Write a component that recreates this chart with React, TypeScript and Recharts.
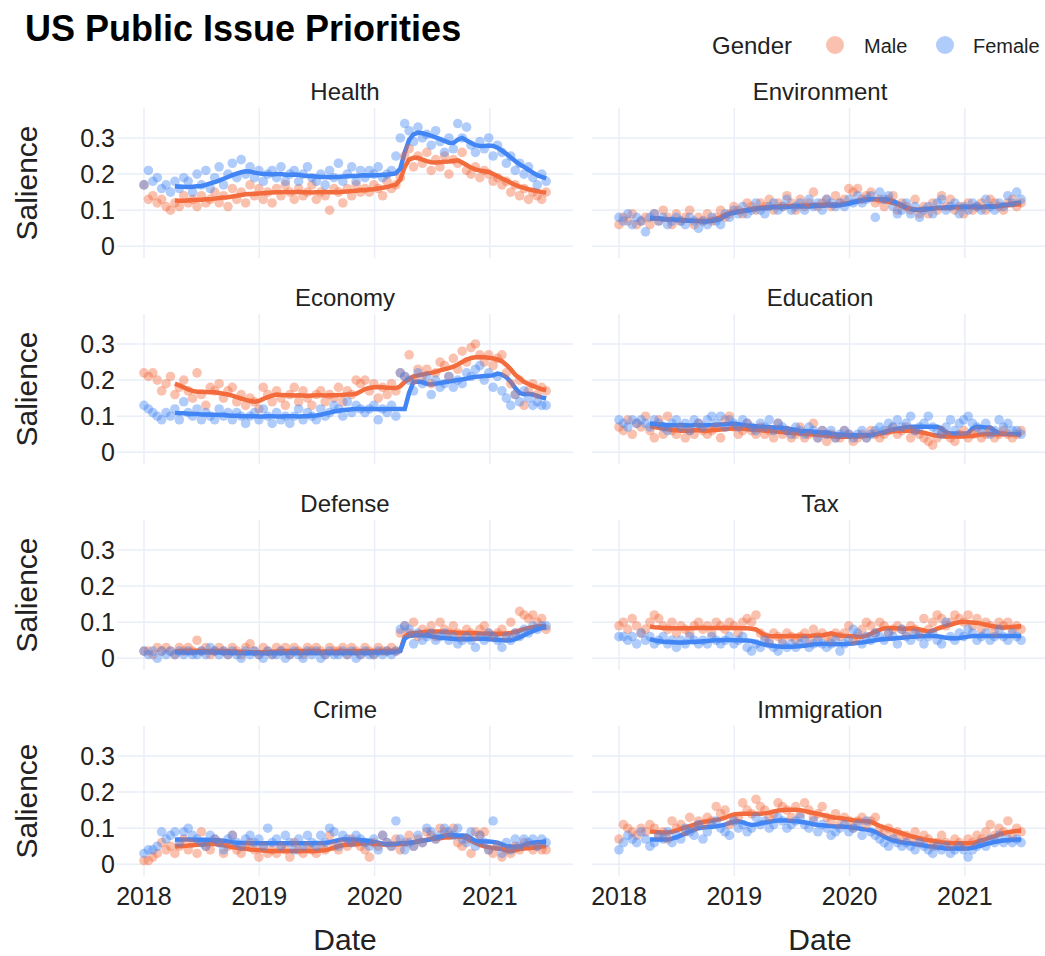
import { ComposedChart, Scatter, Line, XAxis, YAxis, CartesianGrid } from 'recharts';

// Biweekly survey samples from Jan 2018 to mid 2021, salience in percent.
// Trend series start at sample TREND_START (rolling window needs ~3 months).
const SAMPLE_STEP = 14 / 365.25;
const TREND_START = 7;

const HEALTH_MALE = [
  17, 13, 14, 12, 13, 11, 10, 12, 11, 14,
  12, 13, 11, 14, 12, 13, 15, 12, 14, 11,
  16, 13, 15, 12, 17, 14, 16, 13, 15, 12,
  16, 14, 17, 15, 13, 16, 14, 15, 17, 13,
  15, 14, 10, 16, 15, 12, 16, 14, 17, 15,
  16, 15, 17, 16, 14, 18, 16, 17, 19, 25,
  27, 22, 25, 23, 26, 21, 24, 22, 25, 20,
  24, 23, 26, 21, 20, 22, 19, 21, 20, 18,
  19, 17, 18, 15, 17, 14, 16, 13, 15, 14,
  13, 15,
];
const HEALTH_FEMALE = [
  17, 21, 18, 19, 16, 17, 15, 18, 16, 19,
  18, 15, 20, 17, 21, 16, 19, 22, 17, 20,
  23, 19, 24, 20, 22, 19, 21, 18, 20, 21,
  19, 22, 18, 20, 21, 18, 20, 22, 19, 18,
  20, 17, 21, 19, 23, 18, 20, 22, 18, 21,
  19, 21, 20, 22, 19, 20, 21, 25, 30, 34,
  32, 29, 33, 30, 31, 28, 32, 29, 26, 30,
  27, 34, 30, 33, 28, 26, 29, 27, 30, 25,
  28, 26, 23, 25, 21, 23, 20, 22, 19, 17,
  20, 18,
];
const HEALTH_MALE_TREND = [
  12.7, 12.6, 12.6, 12.7, 12.8, 12.8, 12.9, 13.0, 13.0, 13.2,
  13.4, 13.5, 13.6, 13.8, 14.0, 14.2, 14.4, 14.5, 14.5, 14.6,
  14.7, 14.8, 14.9, 15.0, 15.0, 15.1, 15.0, 15.0, 15.1, 15.0,
  15.0, 14.9, 15.0, 15.0, 15.1, 15.0, 15.0, 15.0, 15.1, 15.2,
  15.3, 15.4, 15.5, 15.6, 15.7, 15.8, 16.0, 16.2, 16.4, 16.8,
  17.0, 18.5, 22.0, 24.0, 24.5, 24.5, 24.0, 23.6, 23.3, 23.2,
  23.3, 23.4, 23.5, 23.7, 23.8, 23.2, 22.5, 21.8, 21.3, 21.0,
  20.8, 20.6, 20.0, 19.4, 18.8, 18.2, 17.6, 17.0, 16.5, 16.2,
  15.8, 15.5, 15.3, 15.0, 14.9,
];
const HEALTH_FEMALE_TREND = [
  16.6, 16.5, 16.5, 16.4, 16.5, 16.6, 16.7, 17.0, 17.4, 17.8,
  18.2, 18.7, 19.2, 19.7, 20.1, 20.5, 20.8, 20.7, 20.4, 20.2,
  20.0, 20.0, 19.9, 20.0, 20.0, 19.8, 19.8, 19.9, 19.8, 19.6,
  19.5, 19.4, 19.3, 19.2, 19.2, 19.1, 19.2, 19.2, 19.3, 19.4,
  19.5, 19.5, 19.6, 19.7, 19.6, 19.7, 19.7, 19.8, 19.8, 20.0,
  20.2, 21.5, 26.0, 29.5, 31.0, 31.5, 31.3, 31.0, 30.6, 30.2,
  29.7, 29.2, 28.7, 28.6, 29.5, 30.0, 29.3, 28.6, 28.0, 27.8,
  27.8, 27.9, 27.8, 27.3, 26.5, 25.6, 24.6, 23.6, 22.7, 22.0,
  21.2, 20.4, 19.7, 19.2, 18.8,
];

const ENV_MALE = [
  6, 8, 7, 9, 6, 7, 8, 6, 9, 7,
  10, 8, 6, 9, 7, 8, 10, 6, 8, 7,
  9, 7, 8, 10, 8, 9, 11, 10, 9, 12,
  11, 10, 12, 11, 13, 10, 12, 11, 14, 12,
  10, 13, 11, 12, 15, 11, 12, 13, 11, 14,
  12, 13, 16, 15, 16, 13, 14, 15, 12, 13,
  11, 13, 14, 10, 12, 11, 10, 13, 9, 11,
  9, 12, 10, 14, 11, 13, 10, 11, 9, 12,
  10, 11, 12, 10, 13, 12, 11, 10, 12, 13,
  11, 12,
];
const ENV_FEMALE = [
  8, 7, 9, 6, 8, 7, 4, 8, 9, 7,
  8, 6, 7, 8, 7, 6, 8, 7, 5, 7,
  6, 8, 7, 6, 9, 8, 10, 9, 11, 9,
  10, 12, 10, 9, 11, 12, 10, 11, 13, 10,
  11, 12, 10, 13, 11, 12, 10, 13, 12, 11,
  12, 11, 13, 12, 14, 12, 13, 14, 8, 15,
  13, 14, 11, 9, 10, 12, 9, 11, 8, 10,
  11, 9, 12, 13, 10, 11, 12, 9, 11, 10,
  12, 11, 10, 13, 11, 10, 12, 11, 14, 12,
  15, 13,
];
const ENV_MALE_TREND = [
  7.7, 7.6, 7.6, 7.5, 7.4, 7.4, 7.3, 7.2, 7.1, 7.1,
  7.1, 7.0, 7.0, 7.1, 7.3, 7.6, 8.1, 8.7, 9.2, 9.5,
  9.7, 9.9, 10.1, 10.3, 10.5, 10.7, 10.8, 10.9, 11.0, 11.0,
  11.1, 11.1, 11.2, 11.2, 11.2, 11.3, 11.3, 11.4, 11.4, 11.5,
  11.6, 11.6, 11.5, 11.6, 11.8, 12.0, 12.3, 12.6, 12.8, 13.0,
  13.1, 13.0, 12.8, 12.6, 12.3, 12.0, 11.6, 11.1, 10.6, 10.3,
  10.2, 10.2, 10.3, 10.4, 10.5, 10.6, 10.6, 10.7, 10.7, 10.8,
  10.8, 10.9, 10.9, 10.8, 10.8, 10.8, 10.9, 11.0, 11.0, 11.1,
  11.2, 11.4, 11.5, 11.6, 11.7,
];
const ENV_FEMALE_TREND = [
  7.9, 7.8, 7.7, 7.6, 7.5, 7.4, 7.3, 7.3, 7.2, 7.1,
  7.0, 7.0, 6.9, 6.9, 7.0, 7.2, 7.6, 8.4, 9.0, 9.3,
  9.5, 9.7, 9.9, 10.1, 10.3, 10.5, 10.6, 10.7, 10.8, 10.8,
  10.9, 10.9, 11.0, 11.0, 11.0, 11.1, 11.0, 11.1, 11.2, 11.2,
  11.3, 11.3, 11.2, 11.4, 11.6, 11.8, 12.1, 12.4, 12.7, 12.9,
  13.0, 13.1, 13.0, 13.0, 12.9, 12.6, 12.0, 11.4, 10.8, 10.3,
  10.1, 10.0, 10.1, 10.3, 10.5, 10.6, 10.7, 10.8, 10.8, 10.9,
  10.9, 11.0, 10.9, 11.0, 11.0, 10.9, 11.0, 11.1, 11.0, 11.2,
  11.4, 11.6, 11.8, 12.0, 12.1,
];

const ECON_MALE = [
  22, 21, 22, 20, 17, 19, 21, 16, 18, 20,
  17, 15, 22, 16, 13, 18, 17, 19, 15, 17,
  18, 14, 16, 13, 15, 14, 12, 18, 16, 14,
  17, 15, 13, 16, 18, 14, 17, 15, 13, 16,
  17, 14, 16, 15, 18, 14, 17, 16, 20, 19,
  20, 17, 19, 15, 18, 16, 19, 17, 22, 21,
  27, 20, 23, 21, 23, 19, 22, 25, 24, 21,
  26, 23, 28, 25, 29, 30, 27, 25, 27, 24,
  26, 27, 22, 19, 16, 20, 13, 17, 19, 16,
  18, 17,
];
const ECON_FEMALE = [
  13, 12, 11, 10, 9, 11, 10, 12, 9, 14,
  11, 10, 12, 9, 11, 10, 9, 12, 10, 11,
  9, 11, 10, 8, 10, 11, 9, 12, 10, 8,
  11, 9, 10, 8, 10, 12, 9, 11, 10, 9,
  12, 10, 11, 13, 12, 10, 14, 11, 13, 12,
  11, 12, 13, 9, 12, 11, 13, 10, 22, 21,
  20, 17, 22, 19, 21, 16, 20, 18, 19, 21,
  18, 20, 19, 22, 21, 23, 24, 20, 22, 18,
  21, 17, 15, 13, 16, 14, 17, 15, 13, 14,
  13, 13,
];
const ECON_MALE_TREND = [
  19.0, 18.5, 18.0, 17.4, 17.0, 16.8, 16.8, 16.7, 16.6, 16.6,
  16.4, 16.2, 16.0, 15.7, 15.3, 14.9, 14.5, 14.2, 14.0, 14.2,
  14.8, 15.3, 15.7, 16.0, 15.9, 15.8, 15.8, 15.7, 15.8, 15.7,
  15.6, 15.7, 15.8, 15.8, 15.7, 15.8, 15.8, 15.9, 15.9, 16.0,
  16.0, 16.2, 16.8, 17.5, 17.8, 18.0, 18.1, 18.0, 17.9, 17.8,
  17.8, 18.3, 19.5, 20.3, 21.0, 21.3, 21.5, 21.8, 22.0, 22.3,
  22.7, 23.0, 23.3, 23.7, 24.3, 25.0, 25.7, 26.1, 26.3, 26.4,
  26.3, 26.2, 26.0, 25.7, 25.2, 24.2, 23.0, 21.5, 20.5, 19.5,
  18.9, 18.4, 17.9, 17.5, 17.2,
];
const ECON_FEMALE_TREND = [
  10.9, 10.8, 10.8, 10.7, 10.6, 10.6, 10.5, 10.5, 10.4, 10.4,
  10.3, 10.3, 10.2, 10.1, 10.1, 10.0, 10.0, 10.0, 10.0, 9.9,
  9.9, 10.0, 10.0, 9.9, 9.9, 10.0, 10.0, 10.0, 9.9, 10.0,
  10.0, 10.1, 10.2, 10.4, 10.7, 11.0, 11.3, 11.5, 11.7, 11.8,
  11.9, 12.0, 12.0, 12.0, 12.0, 12.0, 11.9, 12.0, 12.0, 12.0,
  12.0, 12.0, 12.0, 16.5, 19.5, 19.6, 19.4, 19.0, 18.8, 19.0,
  19.2, 19.4, 19.6, 19.8, 20.0, 20.2, 20.4, 20.7, 20.9, 21.0,
  21.1, 21.2, 21.3, 21.8, 21.5, 20.8, 19.5, 17.8, 16.4, 16.1,
  16.2, 16.0, 15.6, 15.2, 14.9,
];

const EDU_MALE = [
  7, 6, 9, 5, 8, 7, 10, 6, 4, 9,
  5, 10, 6, 5, 7, 4, 6, 5, 8, 6,
  5, 6, 7, 4, 9, 10, 7, 5, 6, 8,
  6, 5, 7, 5, 6, 4, 8, 5, 6, 4,
  5, 7, 4, 5, 8, 4, 6, 3, 5, 4,
  4, 6, 5, 3, 4, 5, 4, 6, 5, 4,
  5, 6, 7, 5, 6, 7, 4, 6, 5, 4,
  3, 2, 4, 6, 5, 4, 3, 5, 6, 4,
  5, 6, 4, 5, 6, 4, 5, 6, 5, 4,
  5, 6,
];
const EDU_FEMALE = [
  9, 8, 7, 9, 8, 9, 8, 7, 9, 8,
  7, 6, 8, 9, 7, 8, 6, 9, 8, 7,
  9, 10, 8, 10, 7, 9, 8, 7, 9, 8,
  7, 6, 8, 7, 9, 6, 8, 7, 6, 5,
  7, 6, 5, 7, 6, 4, 6, 5, 6, 4,
  5, 6, 5, 4, 5, 6, 4, 5, 6, 7,
  6, 8, 7, 9, 7, 8, 10, 6, 7, 8,
  10, 7, 6, 5, 7, 9, 6, 8, 9, 10,
  8, 7, 6, 8, 5, 6, 9, 7, 8, 6,
  6, 5,
];
const EDU_MALE_TREND = [
  7.2, 7.0, 6.8, 6.6, 6.4, 6.2, 6.1, 6.0, 6.0, 6.0,
  6.1, 6.1, 6.0, 6.0, 6.1, 6.2, 6.3, 6.4, 6.5, 6.6,
  6.6, 6.5, 6.4, 6.3, 6.2, 6.1, 6.0, 5.9, 5.8, 5.7,
  5.6, 5.5, 5.4, 5.3, 5.2, 5.1, 5.0, 4.9, 4.8, 4.7,
  4.6, 4.5, 4.4, 4.3, 4.3, 4.3, 4.4, 4.4, 4.5, 4.6,
  4.8, 5.0, 5.2, 5.4, 5.6, 5.8, 5.9, 6.0, 6.0, 5.9,
  5.8, 5.6, 5.4, 5.1, 4.8, 4.6, 4.5, 4.4, 4.4, 4.4,
  4.4, 4.4, 4.5, 4.6, 4.7, 4.9, 5.0, 5.0, 5.0, 5.0,
  5.0, 5.0, 5.0, 5.0, 5.0,
];
const EDU_FEMALE_TREND = [
  8.0, 7.9, 7.8, 7.7, 7.5, 7.5, 7.4, 7.5, 7.5, 7.4,
  7.5, 7.5, 7.4, 7.5, 7.5, 7.6, 7.7, 7.8, 7.9, 8.0,
  7.8, 7.6, 7.4, 7.3, 7.2, 7.1, 7.1, 7.0, 6.9, 6.9,
  6.8, 6.6, 6.4, 6.2, 6.0, 5.9, 5.8, 5.7, 5.6, 5.5,
  5.4, 5.2, 5.0, 4.9, 4.8, 4.8, 4.8, 4.7, 4.8, 4.8,
  4.8, 4.9, 5.2, 5.6, 6.0, 6.3, 6.5, 6.7, 6.9, 7.1,
  7.1, 7.1, 7.1, 7.1, 7.1, 7.1, 6.6, 5.5, 5.2, 5.2,
  5.2, 5.2, 5.3, 6.6, 7.1, 7.0, 6.9, 6.9, 6.0, 5.3,
  5.2, 5.1, 5.0, 5.0, 5.0,
];

const DEF_MALE = [
  2, 2, 1, 3, 2, 3, 2, 1, 3, 2,
  3, 2, 5, 2, 3, 1, 2, 3, 2, 1,
  3, 2, 1, 3, 4, 2, 1, 3, 2, 1,
  3, 2, 3, 1, 3, 2, 1, 3, 2, 3,
  2, 1, 3, 2, 2, 3, 1, 3, 2, 1,
  3, 2, 1, 3, 2, 2, 3, 2, 7, 9,
  7, 10, 6, 8, 7, 9, 6, 10, 8, 7,
  9, 7, 6, 8, 7, 6, 8, 9, 7, 6,
  7, 8, 6, 10, 7, 13, 12, 11, 12, 10,
  11, 8,
];
const DEF_FEMALE = [
  2, 1, 2, 0, 2, 1, 2, 1, 2, 1,
  2, 1, 1, 2, 1, 3, 2, 1, 2, 1,
  2, 1, 0, 2, 1, 2, 1, 0, 2, 1,
  1, 2, 0, 1, 2, 1, 0, 2, 1, 2,
  0, 1, 2, 1, 1, 2, 1, 2, 0, 1,
  2, 1, 1, 2, 1, 2, 1, 2, 8, 9,
  8, 4, 7, 5, 6, 7, 5, 6, 7, 5,
  6, 4, 5, 6, 5, 3, 6, 5, 7, 6,
  5, 3, 6, 5, 7, 6, 8, 7, 9, 8,
  9, 9,
];
const DEF_MALE_TREND = [
  1.9, 2.0, 2.0, 2.1, 2.1, 2.1, 2.0, 2.0, 2.0, 2.0,
  2.0, 2.0, 2.0, 1.9, 1.9, 1.8, 1.8, 1.7, 1.7, 1.7,
  1.7, 1.8, 1.8, 1.9, 1.9, 2.0, 2.0, 2.0, 2.0, 2.0,
  2.0, 2.0, 2.0, 1.9, 1.9, 1.9, 1.9, 2.0, 2.0, 2.0,
  2.0, 2.0, 2.0, 2.0, 2.0, 2.0, 2.0, 2.0, 2.0, 2.1,
  2.1, 2.2, 6.0, 6.8, 7.0, 7.1, 7.2, 7.3, 7.4, 7.4,
  7.4, 7.3, 7.2, 7.2, 7.1, 7.1, 7.0, 7.0, 7.0, 6.9,
  6.9, 6.9, 6.8, 6.8, 6.8, 6.9, 7.0, 7.3, 7.7, 8.1,
  8.4, 8.6, 8.8, 8.9, 9.0,
];
const DEF_FEMALE_TREND = [
  1.7, 1.7, 1.6, 1.6, 1.6, 1.7, 1.7, 1.7, 1.6, 1.6,
  1.6, 1.6, 1.5, 1.5, 1.5, 1.5, 1.4, 1.4, 1.4, 1.4,
  1.4, 1.4, 1.4, 1.4, 1.5, 1.5, 1.5, 1.5, 1.5, 1.5,
  1.5, 1.5, 1.5, 1.5, 1.5, 1.5, 1.5, 1.5, 1.5, 1.5,
  1.5, 1.5, 1.5, 1.5, 1.5, 1.6, 1.6, 1.6, 1.6, 1.7,
  1.8, 2.0, 5.5, 6.2, 6.3, 6.4, 6.4, 6.3, 6.1, 5.9,
  5.7, 5.6, 5.5, 5.4, 5.3, 5.3, 5.3, 5.3, 5.4, 5.4,
  5.4, 5.3, 5.2, 5.1, 5.0, 4.9, 5.0, 5.3, 5.8, 6.4,
  7.0, 7.5, 8.0, 8.4, 8.6,
];

const TAX_MALE = [
  9, 10, 8, 11, 9, 7, 8, 10, 12, 11,
  9, 8, 10, 7, 9, 8, 7, 9, 10, 8,
  9, 7, 10, 9, 8, 10, 9, 7, 10, 11,
  10, 12, 7, 6, 5, 7, 6, 5, 7, 6,
  5, 6, 7, 5, 8, 6, 7, 6, 5, 7,
  6, 7, 9, 5, 6, 8, 10, 9, 7, 10,
  9, 7, 8, 9, 8, 7, 9, 8, 7, 11,
  8, 10, 12, 11, 9, 10, 12, 11, 10, 12,
  9, 11, 8, 10, 9, 7, 10, 9, 10, 8,
  9, 8,
];
const TAX_FEMALE = [
  6, 6, 5, 6, 4, 7, 5, 6, 4, 5,
  6, 4, 5, 3, 5, 4, 6, 5, 4, 5,
  4, 6, 5, 4, 5, 6, 4, 5, 6, 3,
  2, 4, 3, 5, 4, 3, 2, 4, 3, 4,
  3, 4, 5, 3, 4, 5, 4, 3, 4, 5,
  2, 4, 5, 8, 7, 4, 6, 5, 7, 6,
  5, 7, 6, 4, 8, 6, 5, 7, 6, 4,
  6, 7, 5, 4, 10, 6, 5, 7, 6, 8,
  7, 5, 6, 7, 5, 6, 8, 6, 5, 7,
  6, 5,
];
const TAX_MALE_TREND = [
  8.8, 8.6, 8.5, 8.4, 8.3, 8.3, 8.3, 8.3, 8.3, 8.3,
  8.4, 8.4, 8.4, 8.4, 8.4, 8.4, 8.4, 8.4, 8.4, 8.4,
  8.4, 8.3, 8.3, 8.2, 8.0, 7.2, 6.4, 6.2, 6.1, 6.1,
  6.1, 6.1, 6.2, 6.2, 6.2, 6.2, 6.2, 6.3, 6.3, 6.4,
  6.6, 6.9, 6.6, 6.3, 6.2, 6.2, 6.1, 6.0, 6.0, 6.3,
  6.8, 7.4, 7.9, 8.3, 8.4, 8.3, 8.3, 8.2, 8.2, 8.3,
  8.2, 8.0, 7.7, 7.4, 7.6, 8.2, 8.6, 9.0, 9.3, 9.7,
  10.0, 10.1, 10.0, 9.9, 9.8, 9.6, 9.3, 9.0, 8.8, 8.6,
  8.5, 8.6, 8.7, 8.8, 8.9,
];
const TAX_FEMALE_TREND = [
  5.3, 5.0, 4.8, 4.6, 4.5, 4.5, 4.4, 4.4, 4.4, 4.5,
  4.6, 4.6, 4.7, 4.8, 4.9, 5.0, 5.0, 5.1, 5.1, 5.0,
  5.0, 4.9, 4.9, 4.8, 4.5, 4.1, 3.8, 3.6, 3.4, 3.3,
  3.2, 3.2, 3.2, 3.3, 3.4, 3.5, 3.7, 3.9, 3.9, 4.0,
  4.0, 3.9, 3.9, 3.9, 3.9, 4.0, 4.1, 4.3, 4.4, 4.6,
  4.8, 5.0, 5.2, 5.3, 5.4, 5.5, 5.6, 5.7, 5.8, 6.0,
  6.0, 6.1, 6.1, 6.2, 6.2, 6.1, 5.9, 5.7, 5.6, 5.5,
  5.6, 5.8, 6.0, 6.2, 6.2, 6.2, 6.2, 6.2, 6.2, 6.2,
  6.2, 6.2, 6.2, 6.2, 6.2,
];

const CRIME_MALE = [
  1, 1, 2, 3, 6, 4, 5, 3, 5, 7,
  4, 6, 3, 9, 5, 4, 7, 6, 3, 5,
  8, 4, 3, 5, 6, 4, 2, 5, 3, 4,
  3, 5, 4, 2, 6, 4, 3, 5, 4, 3,
  5, 4, 8, 5, 4, 6, 5, 7, 6, 5,
  4, 2, 6, 5, 8, 6, 5, 7, 4, 6,
  8, 5, 7, 6, 9, 8, 7, 10, 9, 8,
  10, 6, 5, 7, 3, 9, 8, 9, 4, 3,
  5, 2, 4, 3, 5, 4, 6, 5, 4, 5,
  4, 4,
];
const CRIME_FEMALE = [
  3, 4, 4, 5, 9, 7, 8, 9, 6, 9,
  10, 8, 7, 6, 5, 8, 7, 6, 4, 7,
  8, 6, 5, 7, 8, 6, 7, 5, 10, 6,
  7, 5, 8, 6, 4, 7, 5, 8, 6, 5,
  8, 6, 10, 9, 5, 8, 7, 6, 8, 7,
  6, 5, 7, 4, 8, 6, 5, 12, 7, 4,
  6, 5, 8, 6, 10, 9, 7, 8, 10, 9,
  8, 10, 7, 6, 9, 5, 8, 6, 4, 12,
  5, 3, 6, 4, 7, 5, 7, 6, 7, 5,
  7, 6,
];
const CRIME_MALE_TREND = [
  4.9, 5.0, 5.1, 5.2, 5.3, 5.4, 5.5, 5.5, 5.6, 5.6,
  5.5, 5.3, 5.0, 4.8, 4.6, 4.4, 4.3, 4.1, 4.0, 3.9,
  3.8, 3.7, 3.7, 3.7, 3.7, 3.7, 3.7, 3.7, 3.7, 3.7,
  3.7, 3.7, 3.7, 3.8, 3.9, 4.2, 4.6, 5.0, 5.3, 5.4,
  5.5, 5.6, 5.7, 5.8, 5.8, 5.7, 5.6, 5.5, 5.5, 5.5,
  5.5, 5.6, 5.7, 5.9, 6.1, 6.4, 6.6, 6.8, 7.0, 7.1,
  7.2, 7.4, 7.5, 7.6, 7.7, 7.6, 7.3, 6.5, 5.9, 5.4,
  5.0, 4.7, 4.5, 4.4, 4.2, 3.8, 3.7, 3.9, 4.2, 4.4,
  4.5, 4.6, 4.8, 4.9, 5.0,
];
const CRIME_FEMALE_TREND = [
  6.9, 6.9, 6.9, 6.9, 6.8, 6.8, 6.8, 6.8, 6.7, 6.7,
  6.6, 6.5, 6.3, 6.1, 6.0, 5.9, 5.9, 5.8, 5.8, 5.8,
  5.8, 5.8, 5.8, 5.8, 5.8, 5.8, 5.8, 5.8, 5.8, 5.8,
  5.8, 5.8, 5.9, 5.9, 5.9, 6.1, 6.4, 6.7, 6.9, 6.9,
  6.9, 6.8, 6.7, 6.6, 6.5, 6.2, 6.0, 5.7, 5.6, 5.6,
  5.7, 5.8, 5.9, 6.0, 6.1, 6.3, 6.5, 6.7, 7.0, 7.4,
  7.7, 7.9, 8.1, 8.1, 8.0, 8.0, 7.9, 7.2, 6.5, 6.4,
  6.3, 6.3, 6.2, 6.0, 5.5, 5.0, 4.9, 4.9, 5.0, 5.3,
  5.8, 6.0, 6.1, 6.2, 6.3,
];

const IMM_MALE = [
  7, 11, 10, 9, 8, 10, 9, 11, 10, 8,
  9, 7, 12, 10, 11, 9, 13, 10, 12, 11,
  13, 12, 16, 14, 15, 11, 12, 13, 17, 15,
  14, 18, 16, 15, 13, 14, 17, 16, 15, 13,
  16, 14, 17, 15, 13, 14, 16, 13, 12, 14,
  11, 13, 12, 10, 12, 13, 11, 12, 13, 10,
  9, 10, 8, 9, 7, 8, 7, 9, 6, 8,
  7, 5, 6, 8, 6, 5, 7, 6, 5, 7,
  6, 8, 7, 9, 11, 8, 10, 9, 12, 8,
  10, 9,
];
const IMM_FEMALE = [
  4, 6, 8, 7, 6, 9, 7, 5, 6, 8,
  7, 9, 6, 8, 7, 10, 9, 8, 11, 7,
  9, 11, 12, 10, 9, 8, 12, 10, 11, 9,
  10, 13, 11, 12, 10, 11, 13, 12, 10, 11,
  12, 13, 11, 10, 12, 9, 11, 10, 8, 9,
  10, 11, 9, 10, 11, 8, 12, 9, 8, 7,
  6, 5, 7, 6, 5, 6, 5, 4, 6, 5,
  4, 3, 5, 4, 5, 3, 4, 5, 4, 2,
  4, 5, 6, 5, 7, 6, 8, 6, 7, 6,
  7, 6,
];
const IMM_MALE_TREND = [
  9.1, 9.0, 8.9, 8.8, 8.8, 9.0, 9.4, 9.8, 10.2, 10.6,
  11.0, 11.4, 11.7, 11.9, 12.1, 12.3, 12.5, 12.9, 13.4, 13.8,
  13.9, 14.0, 14.0, 14.0, 14.0, 14.0, 14.1, 14.3, 14.6, 14.9,
  15.0, 15.1, 15.1, 15.1, 15.0, 14.8, 14.5, 14.2, 14.0, 13.7,
  13.4, 13.1, 12.9, 12.8, 12.6, 12.4, 12.2, 12.1, 12.0, 11.9,
  11.8, 11.2, 10.6, 10.2, 9.8, 9.4, 9.0, 8.6, 8.2, 7.8,
  7.5, 7.2, 6.9, 6.7, 6.5, 6.3, 6.1, 6.0, 5.9, 5.8,
  5.8, 5.8, 5.8, 5.9, 6.2, 6.6, 7.0, 7.4, 7.8, 8.2,
  8.6, 8.9, 9.1, 9.2, 9.2,
];
const IMM_FEMALE_TREND = [
  6.9, 6.9, 6.9, 6.9, 6.9, 7.1, 7.5, 8.0, 8.5, 9.1,
  9.6, 10.0, 10.2, 10.3, 10.4, 10.5, 10.7, 11.0, 11.4, 11.8,
  11.9, 11.6, 11.2, 10.9, 11.0, 11.3, 11.6, 11.8, 12.0, 12.1,
  12.1, 12.1, 12.0, 11.9, 11.8, 11.6, 11.4, 11.1, 10.9, 10.8,
  10.7, 10.6, 10.5, 10.5, 10.4, 10.3, 10.1, 10.0, 9.8, 9.6,
  9.4, 9.0, 8.4, 7.7, 7.1, 6.6, 6.3, 6.1, 5.9, 5.8,
  5.6, 5.4, 5.2, 5.0, 4.9, 4.7, 4.6, 4.4, 4.4, 4.4,
  4.4, 4.4, 4.4, 4.6, 4.9, 5.2, 5.6, 5.9, 6.2, 6.4,
  6.6, 6.7, 6.8, 6.9, 6.9,
];

const TOPICS = [
  { name: 'Health', male: HEALTH_MALE, female: HEALTH_FEMALE, maleTrend: HEALTH_MALE_TREND, femaleTrend: HEALTH_FEMALE_TREND },
  { name: 'Environment', male: ENV_MALE, female: ENV_FEMALE, maleTrend: ENV_MALE_TREND, femaleTrend: ENV_FEMALE_TREND },
  { name: 'Economy', male: ECON_MALE, female: ECON_FEMALE, maleTrend: ECON_MALE_TREND, femaleTrend: ECON_FEMALE_TREND },
  { name: 'Education', male: EDU_MALE, female: EDU_FEMALE, maleTrend: EDU_MALE_TREND, femaleTrend: EDU_FEMALE_TREND },
  { name: 'Defense', male: DEF_MALE, female: DEF_FEMALE, maleTrend: DEF_MALE_TREND, femaleTrend: DEF_FEMALE_TREND },
  { name: 'Tax', male: TAX_MALE, female: TAX_FEMALE, maleTrend: TAX_MALE_TREND, femaleTrend: TAX_FEMALE_TREND },
  { name: 'Crime', male: CRIME_MALE, female: CRIME_FEMALE, maleTrend: CRIME_MALE_TREND, femaleTrend: CRIME_FEMALE_TREND },
  { name: 'Immigration', male: IMM_MALE, female: IMM_FEMALE, maleTrend: IMM_MALE_TREND, femaleTrend: IMM_FEMALE_TREND },
];

const YEAR_TICKS = [2018, 2019, 2020, 2021];
const SALIENCE_TICKS = [0, 0.1, 0.2, 0.3];

const MALE_COLOR = '#F36C3D';
const FEMALE_COLOR = '#4285F4';
const GRID_COLOR = '#E9EEF7';
const TEXT_COLOR = '#222';
const FONT = '"Liberation Sans", Arial, sans-serif';

// panel geometry (plot area only)
const PLOT_W = 456;
const PLOT_H = 150;
const COL_X = [117, 592];
const ROW_Y = [108, 314, 520, 726];
const Y_AXIS_W = 60;
const X_AXIS_H = 40;
const X_PAD = 8; // room under inner panels so the "0" tick label is not clipped
const X_DOMAIN = [2017.766, 2021.721];
const Y_DOMAIN = [-0.0324, 0.383];

function buildRows(topic) {
  return topic.male.map((m, i) => ({
    t: 2018 + i * SAMPLE_STEP,
    male: m / 100,
    female: topic.female[i] / 100,
    maleTrend: i >= TREND_START ? topic.maleTrend[i - TREND_START] / 100 : null,
    femaleTrend: i >= TREND_START ? topic.femaleTrend[i - TREND_START] / 100 : null,
  }));
}

const dot = (color) => (props) => {
  if (props.cx == null || props.cy == null) return null;
  return <circle cx={props.cx} cy={props.cy} r={4.8} fill={color} fillOpacity={0.42} />;
};

const fmtSalience = (v) => (v === 0 ? '0' : v.toFixed(1));

// grid lines at the year / salience ticks, inside the plot offset box
const yearLines = ({ offset }) =>
  YEAR_TICKS.map((v) => offset.left + (offset.width * (v - X_DOMAIN[0])) / (X_DOMAIN[1] - X_DOMAIN[0]));
const salienceLines = ({ offset }) =>
  SALIENCE_TICKS.map((v) => offset.top + (offset.height * (Y_DOMAIN[1] - v)) / (Y_DOMAIN[1] - Y_DOMAIN[0]));

function Panel({ topic, index }) {
  const col = index % 2;
  const row = Math.floor(index / 2);
  const showY = col === 0;
  const showX = row === 3;
  const yw = showY ? Y_AXIS_W : 0;
  const xh = showX ? X_AXIS_H : X_PAD;
  const tickStyle = { fontSize: 25, fill: TEXT_COLOR, fontFamily: FONT };

  return (
    <div style={{ position: 'absolute', left: COL_X[col] - yw, top: ROW_Y[row] }}>
      <ComposedChart
        width={PLOT_W + yw}
        height={PLOT_H + xh}
        data={buildRows(topic)}
        margin={{ top: 0, right: 0, bottom: 0, left: 0 }}
      >
        <CartesianGrid
          stroke={GRID_COLOR}
          strokeWidth={1.5}
          verticalCoordinatesGenerator={yearLines}
          horizontalCoordinatesGenerator={salienceLines}
        />
        <XAxis
          type="number"
          dataKey="t"
          domain={X_DOMAIN}
          ticks={YEAR_TICKS}
          interval={0}
          allowDataOverflow
          height={xh}
          axisLine={false}
          tickLine={false}
          tickSize={0}
          tickMargin={11}
          tick={showX ? tickStyle : false}
          tickFormatter={(v) => String(v)}
        />
        <YAxis
          type="number"
          domain={Y_DOMAIN}
          ticks={SALIENCE_TICKS}
          interval={0}
          allowDataOverflow
          width={yw}
          axisLine={false}
          tickLine={false}
          tickSize={0}
          tickMargin={2}
          tick={showY ? tickStyle : false}
          tickFormatter={fmtSalience}
        />
        <Scatter dataKey="male" shape={dot(MALE_COLOR)} isAnimationActive={false} />
        <Scatter dataKey="female" shape={dot(FEMALE_COLOR)} isAnimationActive={false} />
        <Line dataKey="maleTrend" stroke={MALE_COLOR} strokeWidth={4.5} dot={false} isAnimationActive={false} />
        <Line dataKey="femaleTrend" stroke={FEMALE_COLOR} strokeWidth={4.5} dot={false} isAnimationActive={false} />
      </ComposedChart>
    </div>
  );
}

// text centred vertically on y; horizontally centred on x or starting at x
function Label({ x, y, size, children, weight = 400, anchor = 'center', color = TEXT_COLOR }) {
  const tx = anchor === 'center' ? '-50%' : '0';
  return (
    <div
      style={{
        position: 'absolute',
        left: x,
        top: y,
        transform: `translate(${tx}, -50%)`,
        fontSize: size,
        fontWeight: weight,
        lineHeight: 1,
        whiteSpace: 'nowrap',
        color,
      }}
    >
      {children}
    </div>
  );
}

export default function App() {
  return (
    <div
      style={{
        position: 'absolute',
        left: 0,
        top: 0,
        width: 1045,
        height: 956,
        overflow: 'hidden',
        background: '#fff',
        fontFamily: FONT,
      }}
    >
      <Label x={25} y={29} size={36} weight={700} anchor="left" color="#000">
        US Public Issue Priorities
      </Label>

      {/* legend */}
      <Label x={712} y={46} size={24} anchor="left">Gender</Label>
      <svg style={{ position: 'absolute', left: 0, top: 0 }} width={1045} height={80}>
        <circle cx={835} cy={45} r={9} fill={MALE_COLOR} fillOpacity={0.42} />
        <circle cx={945} cy={45} r={9} fill={FEMALE_COLOR} fillOpacity={0.42} />
      </svg>
      <Label x={864} y={46} size={20} anchor="left">Male</Label>
      <Label x={973} y={46} size={20} anchor="left">Female</Label>

      {TOPICS.map((topic, i) => (
        <Panel key={topic.name} topic={topic} index={i} />
      ))}

      {TOPICS.map((topic, i) => (
        <Label key={topic.name} x={COL_X[i % 2] + PLOT_W / 2} y={ROW_Y[Math.floor(i / 2)] - 16.5} size={24}>
          {topic.name}
        </Label>
      ))}

      {ROW_Y.map((y) => (
        <div
          key={y}
          style={{
            position: 'absolute',
            left: 27,
            top: y + PLOT_H / 2,
            transform: 'translate(-50%, -50%) rotate(-90deg)',
            fontSize: 30,
            lineHeight: 1,
            whiteSpace: 'nowrap',
            color: TEXT_COLOR,
          }}
        >
          Salience
        </div>
      ))}

      {COL_X.map((x) => (
        <Label key={x} x={x + PLOT_W / 2} y={940} size={30}>
          Date
        </Label>
      ))}
    </div>
  );
}
